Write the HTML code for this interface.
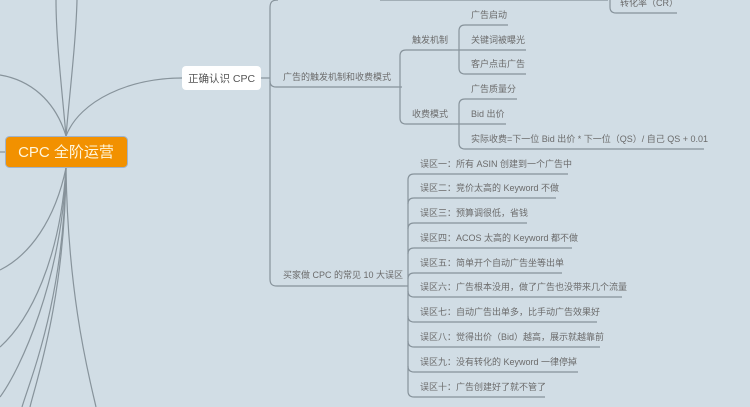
<!DOCTYPE html>
<html><head><meta charset="utf-8"><style>
html,body{margin:0;padding:0;background:#d1dde5;}
svg{display:block;font-family:"Liberation Sans","Noto Sans CJK SC",sans-serif;}
text{fill:#6b6b6b;font-size:9px;}
</style></head><body>
<svg width="750" height="407" viewBox="0 0 750 407">
<rect width="750" height="407" fill="#d1dde5"/>
<g fill="none" stroke="#87939b" stroke-width="1.2">
<path d="M66 136 C62 90 56 40 56 0"/>
<path d="M66 136 C70 90 76 40 77 0"/>
<path d="M66 136 C55 100 30 80 0 75"/>
<path d="M66 136 C80 100 130 78 182 78"/>
<path d="M5 152 H0"/>
<path d="M66 168 C55 220 30 255 0 270"/>
<path d="M66 168 C60 260 30 320 0 347"/>
<path d="M66 168 C62 280 20 370 0 397"/>
<path d="M66 168 C64 300 30 380 22 407"/>
<path d="M66 168 C65 300 35 385 30 407"/>
<path d="M66 168 C68 300 90 380 96 407"/>
<path d="M261 78 H270"/>
<path d="M278 0 C272 0 270 2 270 8 V279 C270 284 272 286 277 286 H405"/>
<path d="M270 81 C270 85 272 87 276 87 H398"/>
<path d="M398 87 H402"/>
<path d="M400 87 V56 C400 52 402 50 406 50 H452"/>
<path d="M400 87 V118 C400 122 402 124 406 124 H452"/>
<path d="M452 50 H459"/>
<path d="M459 50 V31 C459 27 461 25 465 25 H508"/>
<path d="M459 50 H526"/>
<path d="M459 50 V68 C459 72 461 74 465 74 H526"/>
<path d="M452 124 H459"/>
<path d="M459 124 V105 C459 101 461 99 465 99 H517"/>
<path d="M459 124 H506"/>
<path d="M459 124 V143 C459 147 461 149 465 149 H704"/>
<path d="M610 0 V7 C610 11 612 13 616 13 H677"/>
<path d="M380 0 H608"/>
<path d="M405 286 H408"/>
<path d="M408 286 V180 C408 176 410 174 414 174 H568"/>
<path d="M408 204 C408 200 410 198 414 198 H556"/>
<path d="M408 229 C408 225 410 223 414 223 H527"/>
<path d="M408 254 C408 250 410 248 414 248 H572"/>
<path d="M408 279 C408 275 410 273 414 273 H562"/>
<path d="M408 286 V291 C408 295 410 297 414 297 H622"/>
<path d="M408 291 V316 C408 320 410 322 414 322 H597"/>
<path d="M408 316 V341 C408 345 410 347 414 347 H600"/>
<path d="M408 341 V366 C408 370 410 372 414 372 H578"/>
<path d="M408 366 V391 C408 395 410 397 414 397 H545"/>
</g>
<rect x="5.5" y="136.5" width="122" height="31" rx="4" fill="#f29100" stroke="#9fb3cc" stroke-width="1"/>
<text x="66" y="157" text-anchor="middle" style="font-size:15px;fill:#fff6dc">CPC 全阶运营</text>
<rect x="182" y="66" width="79" height="24" rx="4" fill="#ffffff"/>
<text x="221.5" y="82" text-anchor="middle" style="font-size:10.5px;fill:#555">正确认识 CPC</text>
<text x="283" y="80">广告的触发机制和收费模式</text>
<text x="412" y="43">触发机制</text>
<text x="412" y="117">收费模式</text>
<text x="471" y="18">广告启动</text>
<text x="471" y="43">关键词被曝光</text>
<text x="471" y="67">客户点击广告</text>
<text x="471" y="92">广告质量分</text>
<text x="471" y="117">Bid 出价</text>
<text x="471" y="142">实际收费=下一位 Bid 出价 * 下一位（QS）/ 自己 QS  + 0.01</text>
<text x="620" y="6">转化率（CR）</text>
<text x="283" y="278">买家做 CPC 的常见 10 大误区</text>
<text x="420" y="167">误区一：所有 ASIN 创建到一个广告中</text>
<text x="420" y="191">误区二：竞价太高的 Keyword 不做</text>
<text x="420" y="216">误区三：预算调很低，省钱</text>
<text x="420" y="241">误区四：ACOS 太高的 Keyword 都不做</text>
<text x="420" y="266">误区五：简单开个自动广告坐等出单</text>
<text x="420" y="290">误区六：广告根本没用，做了广告也没带来几个流量</text>
<text x="420" y="315">误区七：自动广告出单多，比手动广告效果好</text>
<text x="420" y="340">误区八：觉得出价（Bid）越高，展示就越靠前</text>
<text x="420" y="365">误区九：没有转化的  Keyword  一律停掉</text>
<text x="420" y="390">误区十：广告创建好了就不管了</text>
</svg>
</body></html>
